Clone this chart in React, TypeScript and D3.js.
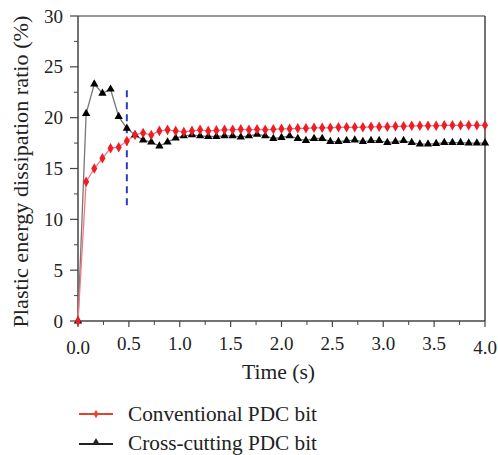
import React from "react";
import * as d3 from "d3";

const times = [0, 0.08, 0.16, 0.24, 0.32, 0.4, 0.48, 0.56, 0.64, 0.72, 0.8, 0.88, 0.96, 1.04, 1.12, 1.2, 1.28, 1.36, 1.44, 1.52, 1.6, 1.68, 1.76, 1.84, 1.92, 2.0, 2.08, 2.16, 2.24, 2.32, 2.4, 2.48, 2.56, 2.64, 2.72, 2.8, 2.88, 2.96, 3.04, 3.12, 3.2, 3.28, 3.36, 3.44, 3.52, 3.6, 3.68, 3.76, 3.84, 3.92, 4.0];

const conventional = [0, 13.7, 15.0, 16.0, 17.0, 17.1, 17.7, 18.3, 18.5, 18.3, 18.7, 18.8, 18.7, 18.6, 18.7, 18.8, 18.7, 18.75, 18.8, 18.8, 18.85, 18.8, 18.85, 18.8, 18.85, 18.9, 18.9, 18.95, 18.95, 19.0, 19.0, 19.0, 19.05, 19.05, 19.05, 19.05, 19.1, 19.1, 19.1, 19.15, 19.15, 19.2, 19.2, 19.2, 19.2, 19.25, 19.25, 19.25, 19.25, 19.25, 19.25];

const crossCutting = [0, 20.4, 23.3, 22.4, 22.8, 20.1, 18.95, 18.3, 17.8, 17.6, 17.2, 17.6, 18.0, 18.2, 18.3, 18.2, 18.15, 18.15, 18.2, 18.2, 18.1, 18.2, 18.35, 18.2, 17.95, 18.05, 18.2, 17.95, 17.75, 17.95, 17.95, 17.65, 17.65, 17.75, 17.8, 17.65, 17.75, 17.75, 17.55, 17.65, 17.75, 17.55, 17.4, 17.4, 17.45, 17.55, 17.55, 17.55, 17.5, 17.5, 17.5];

const xTicks = [0, 0.5, 1.0, 1.5, 2.0, 2.5, 3.0, 3.5, 4.0];
const xMinor = [0.25, 0.75, 1.25, 1.75, 2.25, 2.75, 3.25, 3.75];
const yTicks = [0, 5, 10, 15, 20, 25, 30];
const yMinor = [2.5, 7.5, 12.5, 17.5, 22.5, 27.5];

const dividerTime = 0.48;
const dividerRange = [11, 22.7];

const seriesNames = ["Conventional PDC bit", "Cross-cutting PDC bit"];

const FONT = '"Liberation Serif", "DejaVu Serif", serif';

export default function App() {
  const left = 78, right = 485, top = 16, bottom = 321;
  const x = d3.scaleLinear().domain([0, 4]).range([left, right]);
  const y = d3.scaleLinear().domain([0, 30]).range([bottom, top]);

  const line = d3.line<number>().x((_, i) => x(times[i])).y((d) => y(d));
  const diamond = d3.symbol().type(d3.symbolDiamond).size(32)() as string;
  const triangle = d3.symbol().type(d3.symbolTriangle).size(30)() as string;
  const axisColor = "#444";

  return (
    <svg width={498} height={455} style={{ position: "absolute", left: 0, top: 0, background: "#fff", fontFamily: FONT }}>
      {/* frame */}
      <line x1={left} x2={right} y1={top} y2={top} stroke="#777" strokeWidth={1.5} />
      <line x1={right} x2={right} y1={top} y2={bottom} stroke="#444" strokeWidth={1.5} />
      <line x1={left} x2={left} y1={top} y2={bottom} stroke={axisColor} strokeWidth={1.5} />
      <line x1={left} x2={right} y1={bottom} y2={bottom} stroke={axisColor} strokeWidth={1.5} />

      {/* y ticks */}
      {yTicks.map((t) => (
        <g key={"y" + t}>
          <line x1={left - 8} x2={left} y1={y(t)} y2={y(t)} stroke={axisColor} strokeWidth={1.2} />
          <text x={left - 15} y={y(t)} dy="0.35em" textAnchor="end" fontSize={19} fill="#222">{t}</text>
        </g>
      ))}
      {yMinor.map((t) => (
        <line key={"ym" + t} x1={left - 4} x2={left} y1={y(t)} y2={y(t)} stroke={axisColor} strokeWidth={1} />
      ))}

      {/* x ticks */}
      {xTicks.map((t, i) => (
        <g key={"x" + t}>
          <line x1={x(t)} x2={x(t)} y1={bottom} y2={bottom + 6} stroke={axisColor} strokeWidth={1.2} />
          <text x={x(t)} y={bottom + 29 + (i === 0 || i === xTicks.length - 1 ? 4 : 0)} textAnchor="middle" fontSize={19} fill="#222">{t.toFixed(1)}</text>
        </g>
      ))}
      {xMinor.map((t) => (
        <line key={"xm" + t} x1={x(t)} x2={x(t)} y1={bottom} y2={bottom + 4} stroke={axisColor} strokeWidth={1} />
      ))}

      {/* axis titles */}
      <text transform="translate(28, 171.5) rotate(-90)" textAnchor="middle" fontSize={22} fill="#222" textLength={312} lengthAdjust="spacingAndGlyphs">Plastic energy dissipation ratio (%)</text>
      <text x={278.5} y={379} textAnchor="middle" fontSize={21} fill="#222" textLength={73} lengthAdjust="spacingAndGlyphs">Time (s)</text>

      {/* divider */}
      <line x1={x(dividerTime)} x2={x(dividerTime)} y1={y(dividerRange[1])} y2={y(dividerRange[0])} stroke="#2a3fbf" strokeWidth={2} strokeDasharray="7,5" />

      {/* series */}
      <path d={line(crossCutting) as string} fill="none" stroke="#777" strokeWidth={1.3} />
      <path d={line(conventional) as string} fill="none" stroke="#f47a80" strokeWidth={1.3} />
      {crossCutting.map((v, i) => (
        <path key={"b" + i} d={triangle} transform={`translate(${x(times[i])},${y(v)})`} fill="#000" />
      ))}
      {conventional.map((v, i) => (
        <path key={"r" + i} d={diamond} transform={`translate(${x(times[i])},${y(v)})`} fill="#ee1c25" />
      ))}

      {/* legend */}
      <line x1={79} x2={113} y1={414} y2={414} stroke="#e8432a" strokeWidth={2} />
      <path d={d3.symbol().type(d3.symbolDiamond).size(20)() as string} transform="translate(96,414)" fill="#e8432a" />
      <text x={128} y={421} fontSize={21} fill="#222" textLength={189} lengthAdjust="spacingAndGlyphs">{seriesNames[0]}</text>
      <line x1={79} x2={113} y1={444} y2={444} stroke="#222" strokeWidth={2} />
      <path d={d3.symbol().type(d3.symbolTriangle).size(20)() as string} transform="translate(96,442)" fill="#222" />
      <text x={128} y={450} fontSize={21} fill="#222" textLength={189} lengthAdjust="spacingAndGlyphs">{seriesNames[1]}</text>
    </svg>
  );
}
